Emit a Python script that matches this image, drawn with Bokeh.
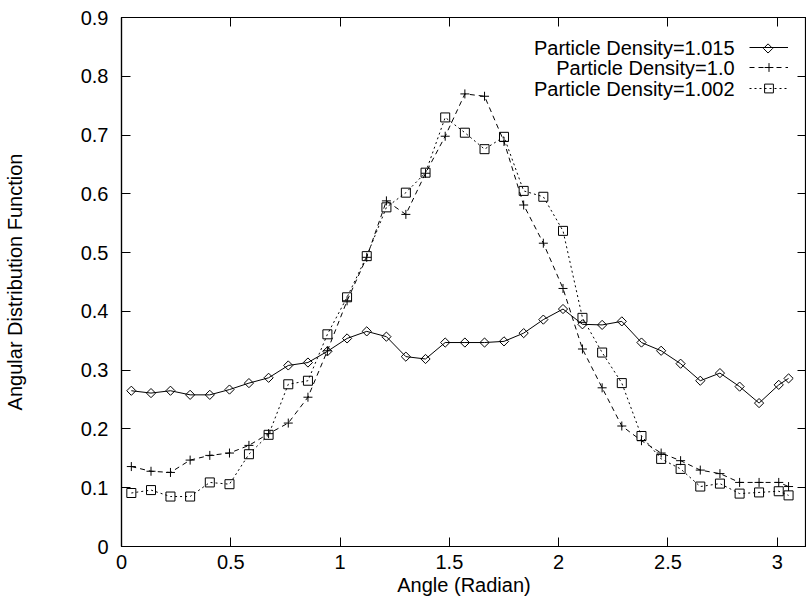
import math
from bokeh.plotting import figure
from bokeh.models import (Range1d, LinearAxis, FixedTicker, CustomJSTickFormatter,
                          Label, Legend, LegendItem)
from bokeh.embed import file_html
from bokeh.resources import INLINE

# ---------------- data ----------------
angle = [0.045, 0.135, 0.224, 0.314, 0.404, 0.494, 0.583, 0.673, 0.763, 0.853,
         0.942, 1.032, 1.122, 1.212, 1.301, 1.391, 1.481, 1.571, 1.661, 1.750,
         1.840, 1.930, 2.020, 2.109, 2.199, 2.289, 2.379, 2.469, 2.558, 2.648,
         2.738, 2.828, 2.917, 3.007, 3.052]

density_1015 = [0.265, 0.261, 0.265, 0.258, 0.258, 0.267, 0.278, 0.287, 0.308, 0.313,
                0.332, 0.354, 0.366, 0.357, 0.323, 0.319, 0.347, 0.347, 0.347, 0.349,
                0.363, 0.386, 0.404, 0.378, 0.377, 0.383, 0.347, 0.333, 0.311, 0.282,
                0.295, 0.272, 0.244, 0.275, 0.286]

density_10 = [0.136, 0.128, 0.126, 0.147, 0.155, 0.159, 0.172, 0.192, 0.210, 0.254,
              0.333, 0.418, 0.492, 0.588, 0.565, 0.635, 0.698, 0.770, 0.766, 0.689,
              0.581, 0.516, 0.439, 0.336, 0.270, 0.205, 0.180, 0.159, 0.146, 0.130,
              0.124, 0.109, 0.109, 0.109, 0.102]

density_1002 = [0.091, 0.096, 0.085, 0.085, 0.109, 0.106, 0.157, 0.190, 0.276, 0.282,
                0.361, 0.424, 0.494, 0.577, 0.602, 0.636, 0.730, 0.704, 0.676, 0.697,
                0.605, 0.595, 0.537, 0.389, 0.330, 0.278, 0.188, 0.149, 0.132, 0.102,
                0.107, 0.090, 0.092, 0.094, 0.087]

series_names = ["Particle Density=1.015", "Particle Density=1.0", "Particle Density=1.002"]

x_title = "Angle (Radian)"
y_title = "Angular Distribution Function"

x_ticks = [0, 0.5, 1, 1.5, 2, 2.5, 3]
x_tick_labels = ["0", "0.5", "1", "1.5", "2", "2.5", "3"]
y_ticks = [0, 0.1, 0.2, 0.3, 0.4, 0.5, 0.6, 0.7, 0.8, 0.9]
y_tick_labels = ["0", "0.1", "0.2", "0.3", "0.4", "0.5", "0.6", "0.7", "0.8", "0.9"]

# ---------------- style ----------------
FONT = "Liberation Sans"
FS = "20px"
X_END = 3.134
Y_END = 0.9
FRAME_BOTTOM = 547   # px from top of page
FRAME_LEFT = 120
FRAME_W = 686
FRAME_H = 530

p = figure(width=806, height=598, output_backend="svg", toolbar_location=None,
           x_range=Range1d(0, X_END), y_range=Range1d(0, Y_END),
           min_border_left=FRAME_LEFT, min_border_right=0,
           min_border_top=17, min_border_bottom=51)
p.grid.visible = False
p.outline_line_color = "black"
p.outline_line_width = 1.2
p.background_fill_color = "white"
p.border_fill_color = "white"


def to_data_x(px):
    return (px - FRAME_LEFT) / FRAME_W * X_END


def to_data_y(py):
    return (FRAME_BOTTOM - py) / FRAME_H * Y_END


xa = p.xaxis[0]
ya = p.yaxis[0]
xa.ticker = FixedTicker(ticks=x_ticks)
ya.ticker = FixedTicker(ticks=y_ticks)
xa.major_label_overrides = {t: s for t, s in zip(x_ticks, x_tick_labels)}
ya.major_label_overrides = {t: s for t, s in zip(y_ticks, y_tick_labels)}
for ax in (xa, ya):
    ax.major_tick_in = 9
    ax.major_tick_out = 0
    ax.minor_tick_in = 0
    ax.minor_tick_out = 0
    ax.axis_line_color = "black"
    ax.axis_line_width = 1.2
    ax.major_tick_line_color = "black"
    ax.major_label_text_font = FONT
    ax.major_label_text_font_size = FS
    ax.major_label_text_color = "black"
    ax.axis_label_text_font = FONT
    ax.axis_label_text_font_size = FS
    ax.axis_label_text_font_style = "normal"
    ax.axis_label_text_color = "black"

xa.axis_label = x_title
xa.major_label_standoff = 8
xa.axis_label_standoff = 2
ya.axis_label = y_title
ya.major_label_standoff = 13
ya.axis_label_standoff = 52

empty = CustomJSTickFormatter(code="return ''")
top = LinearAxis(ticker=FixedTicker(ticks=x_ticks), formatter=empty,
                 major_tick_in=9, major_tick_out=0, minor_tick_in=0, minor_tick_out=0,
                 major_label_standoff=0, axis_line_color="black",
                 major_label_text_font_size="1px")
right = LinearAxis(ticker=FixedTicker(ticks=y_ticks), formatter=empty,
                   major_tick_in=9, major_tick_out=0, minor_tick_in=0, minor_tick_out=0,
                   major_label_standoff=0, axis_line_color="black",
                   major_label_text_font_size="1px")
p.add_layout(top, "above")
p.add_layout(right, "right")

# ---------------- series ----------------
l1 = p.line(angle, density_1015, line_color="black", line_width=1)
m1 = p.scatter(angle, density_1015, marker="square", angle=math.pi / 4, size=6.5,
               fill_color=None, line_color="black", line_width=1)

l2 = p.line(angle, density_10, line_color="black", line_width=1, line_dash="5 4")
m2 = p.scatter(angle, density_10, marker="cross", size=9,
               line_color="black", line_width=1)

l3 = p.line(angle, density_1002, line_color="black", line_width=1, line_dash="2 3")
m3 = p.scatter(angle, density_1002, marker="square", size=9,
               fill_color=None, line_color="black", line_width=1)

# ---------------- legend (text right-aligned, sample to the right) ----------------
row_y = [48, 68, 89]          # px from top
text_right = 734              # px
sample_left = 748
sample_w = 39
glyph_h = [20, 22, 22]
legend_renderers = [[l1], [l2, m2], [l3, m3]]

for name, cy, gh, rends in zip(series_names, row_y, glyph_h, legend_renderers):
    p.add_layout(Label(x=to_data_x(text_right), y=to_data_y(cy), text=name,
                       text_align="right", text_baseline="middle",
                       text_font=FONT, text_font_size=FS, text_color="black"))
    leg = Legend(items=[LegendItem(label=" ", renderers=rends)],
                 location=(sample_left - FRAME_LEFT, FRAME_BOTTOM - cy - gh / 2),
                 glyph_width=sample_w, glyph_height=gh, label_height=gh, label_width=0,
                 label_standoff=0, padding=0, margin=0, spacing=0,
                 label_text_font_size="8px",
                 border_line_alpha=0, background_fill_alpha=0)
    p.add_layout(leg)

# legend key marker for the diamond series (rotated square, as in the plot)
p.scatter([to_data_x(sample_left + sample_w / 2)], [to_data_y(row_y[0])],
          marker="square", angle=math.pi / 4, size=6.5,
          fill_color="white", line_color="black", line_width=1)

open("out.html", "w").write(file_html(p, INLINE))
